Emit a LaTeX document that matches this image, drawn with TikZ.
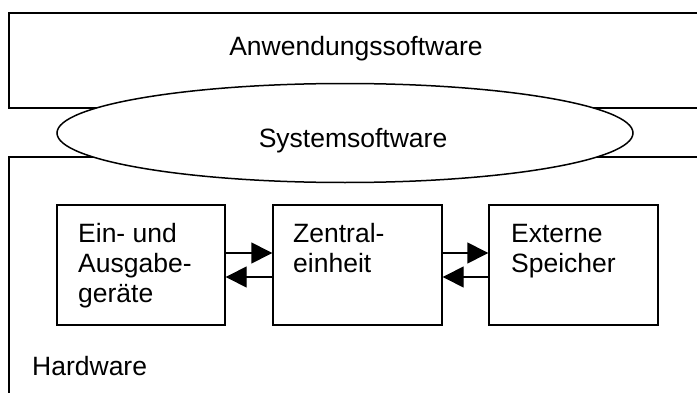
\documentclass[tikz,border=0pt]{standalone}
\usepackage{fontspec}
\setmainfont{Liberation Sans}
\usetikzlibrary{arrows.meta,shapes.geometric}
\begin{document}
\begin{tikzpicture}[x=1pt,y=1pt,
  lbl/.style={inner sep=0pt, align=left, font=\fontsize{26.5}{30}\selectfont},
  unit/.style={draw, line width=1.4pt, minimum width=168pt, minimum height=120pt, inner sep=0pt},
  flow/.style={-{Triangle[length=21pt,width=21pt]}, line width=1.4pt}]
\useasboundingbox (0,0) rectangle (697,392);
% application software layer (open to the right)
\draw[line width=2pt] (705,379) -- (9,379) -- (9,284) -- (705,284);
% hardware layer (open to the right and bottom)
\draw[line width=1.6pt] (705,235) -- (9,235) -- (9,-5);
% system software between the layers
\node[draw, ellipse, fill=white, line width=1.5pt, minimum width=576pt, minimum height=99pt, inner sep=0pt] (sys) at (345,259) {};
\node[lbl, anchor=base] (systxt) at (353,245) {Systemsoftware};
\node[lbl, anchor=base] (apptxt) at (356,337) {Anwendungssoftware};
\node[lbl, anchor=base west] (hwtxt) at (32,17) {Hardware};
% hardware units
\node[unit] (io) at (141,127) {};
\node[unit, minimum width=169pt] (cpu) at (357.5,127) {};
\node[unit, minimum width=169pt] (ext) at (573.5,127) {};
% multi-line labels, anchored on the baseline of their last line
\node[lbl, anchor=base west] (iotxt) at (78,90) {Ein- und\\Ausgabe-\\geräte};
\node[lbl, anchor=base west] (cputxt) at (293,120) {Zentral-\\einheit};
\node[lbl, anchor=base west] (exttxt) at (511,120) {Externe\\Speicher};
% data flow between units
\draw[flow] ([yshift=12pt]io.east) -- ([yshift=12pt]cpu.west);
\draw[flow] ([yshift=-12pt]cpu.west) -- ([yshift=-12pt]io.east);
\draw[flow] ([yshift=12pt]cpu.east) -- ([yshift=12pt]ext.west);
\draw[flow] ([yshift=-12pt]ext.west) -- ([yshift=-12pt]cpu.east);
\end{tikzpicture}
\end{document}
